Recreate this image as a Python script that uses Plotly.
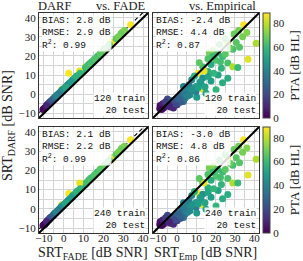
import plotly.graph_objects as go

# ---------------- data ----------------
pta = [88, 70, 72, 78, 65, 88, 65, 62, 85, 70, 72, 62, 60, 64, 63, 78, 60, 55, 58, 55,
       88, 52, 45, 42, 50, 55, 85, 48, 58, 50, 40, 35, 44, 48, 38, 30, 28, 32, 22, 15,
       10, 5, 4, 6, 12, 18, 25, 14, 10, 38, 36, 46, 40, 52, 55, 60, 62, 86, 68, 66,
       64, 20, 3, 8, 30, 42, 70, 66,
       16, 24, 20, 28, 36, 45, 50, 48, 58, 62, 66, 68, 64, 56, 2, 9, 40, 52]
srt_emp = [34.5, 31.9, 36.2, 41.0, 30.7, 26.2, 32.4, 28.9, 36.8, 16.7, 18.5, 21.0, 23.6, 20.2, 26.3, 28.9, 31.5, 17.6, 23.0, 16.0,
           11.0, 21.3, 13.3, 7.6, 17.6, 23.6, 13.3, 9.8, 20.2, 15.0, 5.0, 2.4, 6.7, 10.2, 4.2, 0.7, -1.0, 3.3, -2.8, -4.5,
           -6.2, -8.0, -8.8, -7.0, -3.6, 0.0, 1.6, -5.3, -1.9, 9.8, 6.2, 12.4, 3.3, 16.1, 26.3, 18.5, 13.3, 14.0, 29.5, 25.0,
           22.0, -5.0, -9.0, -7.5, 2.0, 7.0, 34.0, 11.5,
           -6.0, -3.0, -1.0, 1.0, 4.0, 8.0, 11.0, 12.0, 19.0, 22.5, 25.0, 27.5, 16.0, 9.0, -8.0, -4.0, 5.5, 14.5]
srt_fade = [33.7, 30.6, 29.3, 24.2, 24.0, 24.5, 21.9, 20.4, 15.8, 19.2, 20.1, 18.4, 17.0, 15.1, 13.4, 11.0, 11.5, 12.6, 10.9, 9.0,
            2.5, 7.4, 5.7, 4.6, 4.2, 3.0, -1.0, 1.5, -0.4, -2.4, -0.6, -2.0, -3.2, -4.3, -4.8, -4.5, -5.7, -6.5, -7.2, -8.0,
            -8.8, -8.9, -8.6, -9.5, -9.2, -8.3, -7.0, -7.3, -9.6, -1.5, 2.0, 3.0, 1.1, 6.5, 5.4, 17.2, 11.6, 8.0, 28.8, 26.4,
            23.0, -5.2, -10.0, -7.9, -3.8, -0.9, 27.5, 13.7,
            -6.9, -6.3, -7.6, -5.3, -2.8, 0.0, 0.8, 3.9, 8.3, 14.1, 18.3, 21.1, 15.6, 6.5, -10.5, -8.7, -3.9, 1.2]
srt_darf_120 = [36.3, 33.3, 32.3, 26.7, 27.0, 27.0, 24.6, 23.5, 18.3, 21.8, 22.8, 21.4, 19.7, 17.8, 16.3, 14.3, 14.0, 15.5, 13.5, 11.8,
                11.0, 10.0, 8.4, 7.5, 6.9, 5.9, 2.6, 4.0, 2.3, 0.5, 2.3, 0.5, -0.3, -1.6, -2.0, -1.6, -3.0, -3.8, -4.7, -5.5,
                -6.4, -6.4, -6.0, -7.3, -6.8, -5.6, -4.3, -4.7, -7.3, 1.4, 4.9, 5.7, 4.0, 9.2, 8.3, 19.7, 14.4, 12.1, 31.5, 29.0,
                26.0, -2.5, -7.5, -5.0, -1.0, 2.0, 30.0, 16.5,
                -4.0, -3.5, -5.0, -2.5, 0.0, 2.8, 3.5, 6.5, 11.0, 17.0, 21.0, 24.0, 18.5, 9.5, -8.0, -6.0, -1.0, 3.8]
srt_darf_240 = [35.9, 32.5, 31.6, 25.8, 26.5, 26.0, 24.0, 22.6, 17.6, 21.3, 22.1, 20.5, 19.2, 17.0, 15.8, 13.4, 13.5, 14.9, 12.7, 11.0,
                8.0, 9.5, 7.6, 6.9, 6.0, 5.3, 2.2, 3.3, 1.5, -0.2, 1.6, -0.1, -1.0, -2.1, -2.6, -2.3, -3.7, -4.4, -5.3, -6.1,
                -7.0, -7.1, -6.7, -7.9, -7.5, -6.2, -5.0, -5.4, -7.9, 0.8, 4.2, 5.0, 3.2, 8.5, 7.5, 19.0, 13.7, 13.5, 30.8, 28.2,
                25.3, -3.3, -8.1, -5.7, -1.8, 1.4, 29.4, 15.8,
                -4.6, -4.2, -5.8, -3.1, -0.8, 2.1, 2.7, 5.9, 10.4, 16.3, 20.4, 23.5, 17.8, 9.0, -8.6, -6.6, -1.7, 3.2]

bias = [2.8, -2.4, 2.1, -3.0]
rmse = [2.9, 4.4, 2.2, 4.8]
r2 = [0.99, 0.87, 0.99, 0.86]
n_train = [120, 120, 240, 240]
n_test = [20, 20, 20, 20]
axis_range = [-12.5, 42.5]
tick_vals = [-10, 0, 10, 20, 30, 40]
minor_vals = [-5, 5, 15, 25, 35]
cbar_ticks = [0, 20, 40, 60, 80]
pta_range = [0, 89]

W, H = 303, 261
SERIF = "Liberation Serif"
MONO = "Liberation Mono"

panels = [
    (srt_fade, srt_darf_120, "x", "y", "coloraxis", True),
    (srt_emp, srt_darf_120, "x2", "y2", "coloraxis", False),
    (srt_fade, srt_darf_240, "x3", "y3", "coloraxis2", True),
    (srt_emp, srt_darf_240, "x4", "y4", "coloraxis2", False),
]

fig = go.Figure()
for i, (xs, ys, xa, ya, ca, dashed) in enumerate(panels):
    lo, hi = axis_range
    if dashed:
        fig.add_trace(go.Scatter(x=[lo, hi], y=[lo + bias[i], hi + bias[i]], xaxis=xa, yaxis=ya,
                                 mode="lines", line=dict(color="black", width=1.1, dash="4px,3px"),
                                 showlegend=False, hoverinfo="skip"))
    fig.add_trace(go.Scatter(x=xs, y=ys, xaxis=xa, yaxis=ya, mode="markers",
                             marker=dict(size=7, color=pta, coloraxis=ca, line=dict(width=0)),
                             showlegend=False))
    fig.add_trace(go.Scatter(x=[lo, hi], y=[lo, hi], xaxis=xa, yaxis=ya,
                             mode="lines", line=dict(color="black", width=2),
                             showlegend=False, hoverinfo="skip"))

def px_x(p):
    return p / W

def px_y(p):
    return 1 - p / H

xdom = [[px_x(39), px_x(148)], [px_x(153), px_x(259)]]
ydom = [[px_y(118), px_y(13)], [px_y(233), px_y(127)]]

def axis(dom, anchor, show_labels, is_x):
    d = dict(domain=dom, anchor=anchor, range=axis_range, tickvals=tick_vals,
             showticklabels=show_labels, showgrid=True, gridcolor="#d4d4d4", gridwidth=1,
             minor=dict(tickvals=minor_vals, showgrid=True, gridcolor="#d4d4d4", gridwidth=1),
             zeroline=False, showline=True, linecolor="#333", linewidth=1, mirror=True,
             ticks="", automargin=False, tickfont=dict(family=SERIF, size=11, color="#222"))
    if is_x:
        d["ticklabelstandoff"] = -5
    return d

layout = dict(
    width=W, height=H, margin=dict(l=0, r=0, t=0, b=0),
    paper_bgcolor="white", plot_bgcolor="white",
    xaxis=axis(xdom[0], "y", False, True), yaxis=axis(ydom[0], "x", True, False),
    xaxis2=axis(xdom[1], "y2", False, True), yaxis2=axis(ydom[0], "x2", False, False),
    xaxis3=axis(xdom[0], "y3", True, True), yaxis3=axis(ydom[1], "x3", True, False),
    xaxis4=axis(xdom[1], "y4", True, True), yaxis4=axis(ydom[1], "x4", False, False),
)

def cax(y0, y1):
    return dict(colorscale="Viridis", cmin=pta_range[0], cmax=pta_range[1],
                colorbar=dict(x=px_x(263), xanchor="left", y=(px_y(y0) + px_y(y1)) / 2, yanchor="middle",
                              len=(y1 - y0) / H, lenmode="fraction", thickness=7, thicknessmode="pixels",
                              xpad=0, ypad=0, outlinewidth=1, outlinecolor="#444", borderwidth=0,
                              tickvals=cbar_ticks, ticks="",
                              tickfont=dict(family=SERIF, size=11, color="#222"),
                              title=dict(text="PTA [dB HL]", side="right",
                                         font=dict(family=SERIF, size=13, color="#222"))))

layout["coloraxis"] = cax(13, 118)
layout["coloraxis2"] = cax(127, 233)
fig.update_layout(**layout)

anns = []
axes_names = [("x", "y"), ("x2", "y2"), ("x3", "y3"), ("x4", "y4")]
for i, (xr, yr) in enumerate(axes_names):
    txt = (f"BIAS: {bias[i]:.1f} dB<br>RMSE: {rmse[i]:.1f} dB<br>"
           f"R<sup>2</sup>: {r2[i]:.2f}")
    anns.append(dict(text=txt, xref=xr, yref=yr, x=-11.4, y=42.0,
                     xanchor="left", yanchor="top", align="left", showarrow=False,
                     bgcolor="rgba(255,255,255,0.85)", borderpad=0,
                     font=dict(family=MONO, size=9.5, color="#111")))
    anns.append(dict(text=f"{n_train[i]} train<br>{n_test[i]} test", xref=xr, yref=yr, x=41.6, y=-12.0,
                     xanchor="right", yanchor="bottom", align="right", showarrow=False,
                     bgcolor="rgba(255,255,255,0.85)", borderpad=0,
                     font=dict(family=MONO, size=9.5, color="#111")))

tfont = dict(family=SERIF, size=12.5, color="#222")
anns.append(dict(text="DARF", xref="paper", yref="paper", x=px_x(54), y=px_y(6),
                 xanchor="center", yanchor="middle", showarrow=False, font=tfont))
anns.append(dict(text="vs. FADE", xref="paper", yref="paper", x=px_x(147), y=px_y(6),
                 xanchor="right", yanchor="middle", showarrow=False, font=tfont))
anns.append(dict(text="vs. Empirical", xref="paper", yref="paper", x=px_x(258), y=px_y(6),
                 xanchor="right", yanchor="middle", showarrow=False, font=tfont))
lfont = dict(family=SERIF, size=14, color="#222")
anns.append(dict(text="SRT<sub>FADE</sub> [dB SNR]", xref="paper", yref="paper", x=px_x(93), y=px_y(253),
                 xanchor="center", yanchor="middle", showarrow=False, font=lfont))
anns.append(dict(text="SRT<sub>Emp</sub> [dB SNR]", xref="paper", yref="paper", x=px_x(205), y=px_y(253),
                 xanchor="center", yanchor="middle", showarrow=False, font=lfont))
anns.append(dict(text="SRT<sub>DARF</sub> [dB SNR]", xref="paper", yref="paper", x=px_x(8), y=px_y(126),
                 xanchor="center", yanchor="middle", textangle=-90, showarrow=False, font=lfont))
fig.update_layout(annotations=anns)

fig.write_html("out.html", config={"displayModeBar": False},
               post_script="document.body.style.margin='0px';")
